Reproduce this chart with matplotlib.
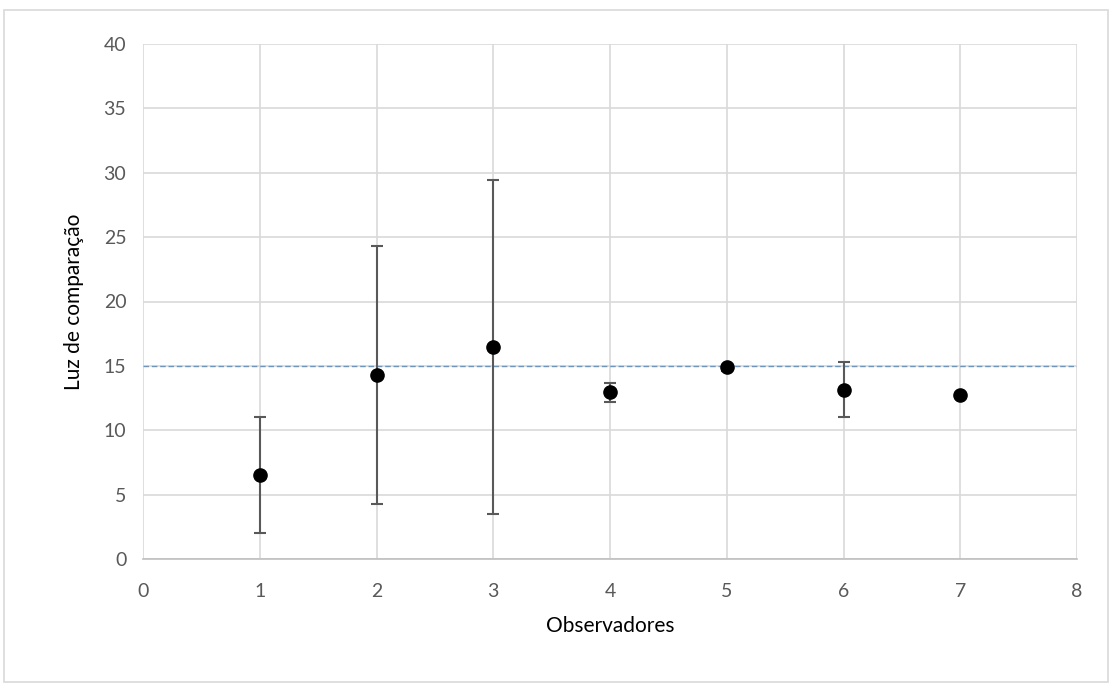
import matplotlib
matplotlib.use("Agg")
import matplotlib.pyplot as plt
from matplotlib.patches import Rectangle

observers = [1, 2, 3, 4, 5, 6, 7]
values = [6.5, 14.3, 16.45, 12.95, 14.9, 13.15, 12.7]
err_low = [4.5, 10.0, 12.95, 0.72, 0.3, 2.15, 0.0]
err_high = [4.5, 10.0, 12.95, 0.75, 0.2, 2.15, 0.0]
reference_level = 15
x_ticks = [0, 1, 2, 3, 4, 5, 6, 7, 8]
y_ticks = [0, 5, 10, 15, 20, 25, 30, 35, 40]

plt.rcParams['font.family'] = ['Lato', 'DejaVu Sans']

fig = plt.figure(figsize=(11.13, 6.89), dpi=100)
ax = fig.add_axes([143/1113, 1-559/689, (1077-143)/1113, (559-44)/689])

fig.patches.append(Rectangle((4/1113, 1-682/689), 1104/1113, 672/689,
                             transform=fig.transFigure, fill=False,
                             edgecolor='#d9d9d9', linewidth=1.2))

ax.set_xlim(0, 8)
ax.set_ylim(0, 40)
ax.set_xticks(x_ticks)
ax.set_yticks(y_ticks)
ax.grid(True, color='#d9d9d9', linewidth=1.2)
ax.set_axisbelow(True)
for s in ['top', 'right', 'left']:
    ax.spines[s].set_visible(False)
ax.spines['bottom'].set_color('#bfbfbf')
ax.spines['bottom'].set_linewidth(1.2)
ax.tick_params(length=0, labelsize=14, colors='#595959')
ax.tick_params(axis='x', pad=17)
ax.tick_params(axis='y', pad=12)

ax.axhline(reference_level, color='#5b9bd5', linewidth=1.0, linestyle=(0, (4, 2)), zorder=2)

ax.errorbar(observers, values, yerr=[err_low, err_high], fmt='o', color='black',
            markersize=9.5, ecolor='#595959', elinewidth=1.5, capsize=4.5,
            capthick=1.5, zorder=3)

ax.set_xlabel('Observadores', fontsize=15, color='black', labelpad=12)
ax.set_ylabel('Luz de comparação', fontsize=15, color='black', labelpad=14)

fig.savefig('out.png', dpi=100)
